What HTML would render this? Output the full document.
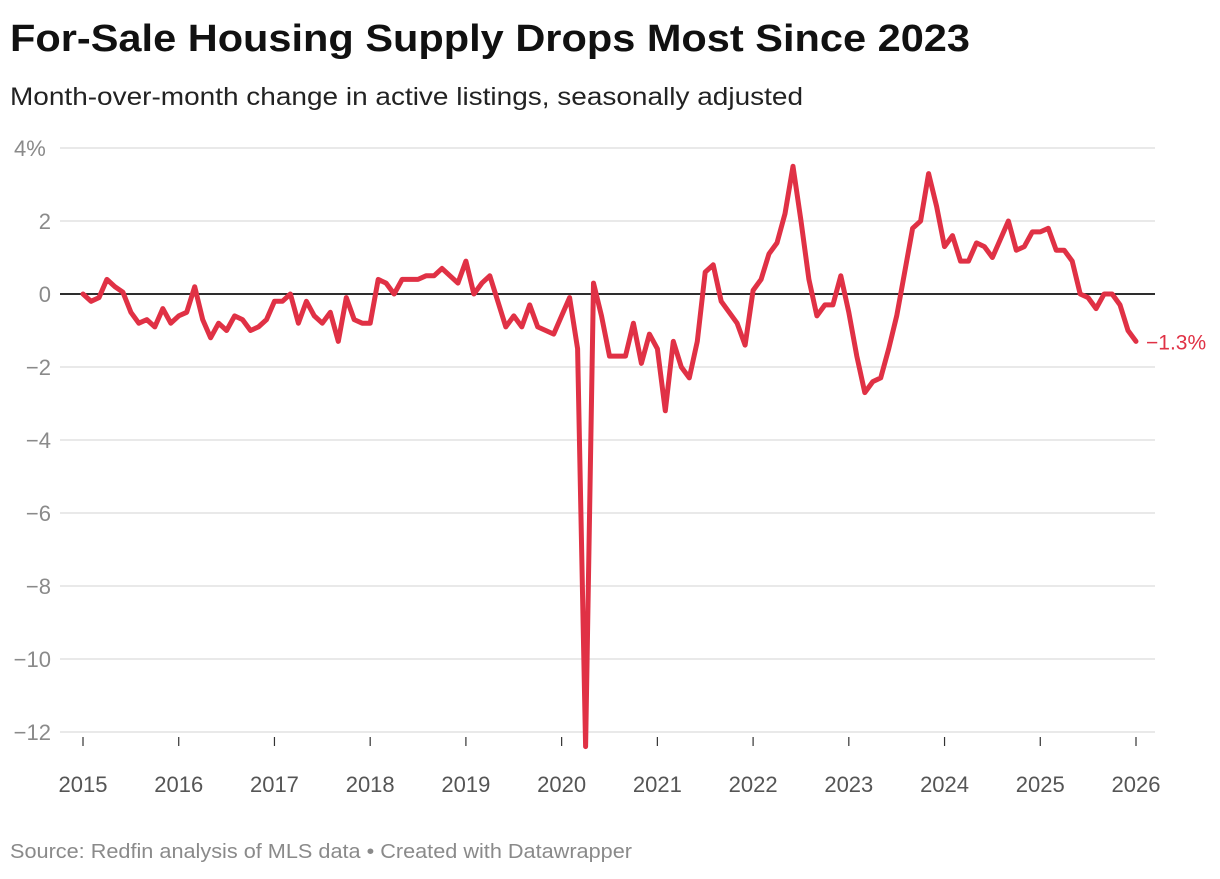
<!DOCTYPE html>
<html><head><meta charset="utf-8"><style>
body{margin:0;background:#fff;width:1220px;height:874px;overflow:hidden;font-family:"Liberation Sans",sans-serif}
</style></head><body>
<svg width="1220" height="874" id="chart">
<text x="10" y="51" font-size="38" font-weight="bold" fill="#111" textLength="960" lengthAdjust="spacingAndGlyphs">For-Sale Housing Supply Drops Most Since 2023</text>
<text x="10" y="105" font-size="25" fill="#222" textLength="793" lengthAdjust="spacingAndGlyphs">Month-over-month change in active listings, seasonally adjusted</text>
<g id="grid"></g><g id="xaxis"></g><g id="series"></g>
<text x="10" y="858" font-size="20" fill="#8a8a8a" textLength="622" lengthAdjust="spacingAndGlyphs">Source: Redfin analysis of MLS data • Created with Datawrapper</text>
</svg>
<script>
const yTicks=[4,2,0,-2,-4,-6,-8,-10,-12];
const years=[2015,2016,2017,2018,2019,2020,2021,2022,2023,2024,2025,2026];
const values=[0,-0.2,-0.1,0.4,0.2,0.05,-0.5,-0.8,-0.7,-0.9,-0.4,-0.8,
-0.6,-0.5,0.2,-0.7,-1.2,-0.8,-1.0,-0.6,-0.7,-1.0,-0.9,-0.7,
-0.2,-0.2,0,-0.8,-0.2,-0.6,-0.8,-0.5,-1.3,-0.1,-0.7,-0.8,
-0.8,0.4,0.3,0,0.4,0.4,0.4,0.5,0.5,0.7,0.5,0.3,
0.9,0,0.3,0.5,-0.2,-0.9,-0.6,-0.9,-0.3,-0.9,-1.0,-1.1,
-0.6,-0.1,-1.5,-12.4,0.3,-0.6,-1.7,-1.7,-1.7,-0.8,-1.9,-1.1,
-1.5,-3.2,-1.3,-2.0,-2.3,-1.3,0.6,0.8,-0.2,-0.5,-0.8,-1.4,
0.1,0.4,1.1,1.4,2.2,3.5,2.0,0.4,-0.6,-0.3,-0.3,0.5,
-0.5,-1.7,-2.7,-2.4,-2.3,-1.5,-0.6,0.6,1.8,2.0,3.3,2.4,
1.3,1.6,0.9,0.9,1.4,1.3,1.0,1.5,2.0,1.2,1.3,1.7,
1.7,1.8,1.2,1.2,0.9,0,-0.1,-0.4,0,0,-0.3,-1.0,
-1.3];
const NS="http://www.w3.org/2000/svg";
const y=v=>294-v*36.5;
const x=i=>83+i*(1053/132);
function mk(t,a,p){const e=document.createElementNS(NS,t);for(const k in a)e.setAttribute(k,a[k]);p.appendChild(e);return e;}
const grid=document.getElementById('grid');
yTicks.forEach(t=>{
 if(t!==0){const l=mk('line',{x1:60,x2:1155,y1:y(t),y2:y(t),stroke:'#e2e2e2','stroke-width':1.5},grid);
 
 }
 const tx=mk('text',{x:51,y:y(t)+8,'text-anchor':'end','font-size':22,fill:'#8a8a8a'},grid);
 tx.textContent=(t<0?'\u2212'+(-t):t)+(t===4?'%':'');
 if(t===4){tx.setAttribute('x',14);tx.setAttribute('text-anchor','start');}
 
 
});
const xa=document.getElementById('xaxis');
years.forEach((yr,k)=>{
 const px=x(k*12);
 const tk=mk('line',{x1:px,x2:px,y1:737,y2:746,stroke:'#333','stroke-width':1.2},xa);
 
 
 const t=mk('text',{x:px,y:792,'text-anchor':'middle','font-size':22,fill:'#555'},xa);
 t.textContent=yr;
 
 
});
const s=document.getElementById('series');
const zl=mk('line',{x1:60,x2:1155,y1:y(0),y2:y(0),stroke:'#111','stroke-width':1.8},s);


const p=mk('path',{d:values.map((v,i)=>(i?'L':'M')+x(i).toFixed(1)+','+y(v).toFixed(1)).join(''),fill:'none',stroke:'#e03145','stroke-width':5,'stroke-linejoin':'round','stroke-linecap':'round'},s);


const last=values[values.length-1];
const lb=mk('text',{x:x(values.length-1)+10,y:y(last)+8,'font-size':21,fill:'#e03145'},s);
lb.textContent='\u2212'+Math.abs(last).toFixed(1)+'%';


</script>
</body></html>
